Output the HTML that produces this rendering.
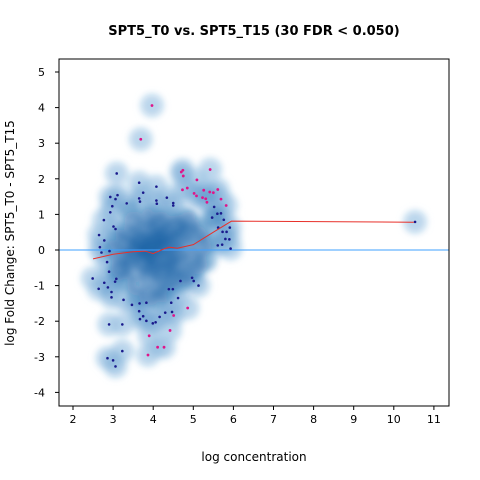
<!DOCTYPE html>
<html><head><meta charset="utf-8"><style>
body{margin:0;background:#fff;}
svg{display:block;font-family:"DejaVu Sans","Liberation Sans",sans-serif;}
</style></head><body>
<svg id="chart" width="480" height="480">
<defs>
<filter id="blur" x="-20%" y="-20%" width="140%" height="140%"><feGaussianBlur stdDeviation="3.5"/></filter>
<clipPath id="clip"><rect x="59" y="59" width="390" height="347"/></clipPath>
</defs>
<text x="254" y="35" text-anchor="middle" font-size="13" font-weight="bold">SPT5_T0 vs. SPT5_T15 (30 FDR &lt; 0.050)</text>
<g id="plot" clip-path="url(#clip)"></g>
<rect x="59" y="59" width="390" height="347" fill="none" stroke="#000" stroke-width="1"/>
<g id="axes"></g>
<text x="254" y="461" text-anchor="middle" font-size="12">log concentration</text>
<text transform="translate(14,233) rotate(-90)" text-anchor="middle" font-size="12">log Fold Change: SPT5_T0 - SPT5_T15</text>
</svg>
<script>
const xTicks=[2,3,4,5,6,7,8,9,10,11];
const yTicks=[-4,-3,-2,-1,0,1,2,3,4,5];
const darkX=[3.09,3.65,4.08,3.75,2.93,3.11,3.06,2.98,3.65,3.67,3.34,4.08,4.09,4.34,4.50,4.50,2.93,2.77,3.01,3.06,2.65,2.78,2.67,2.71,2.91,5.52,5.47,5.60,5.69,5.76,5.62,5.73,5.91,5.83,5.80,5.90,5.61,5.72,5.93,2.85,2.90,2.49,2.78,3.08,3.05,2.64,2.87,2.96,2.96,3.26,3.47,3.66,3.83,4.39,4.49,4.62,4.45,4.68,4.97,5.01,5.13,3.65,3.75,3.67,3.83,3.99,4.06,4.16,4.30,4.47,2.90,3.23,3.23,2.86,3.00,3.06,10.53];
const darkY=[2.15,1.89,1.78,1.61,1.49,1.54,1.43,1.23,1.45,1.36,1.31,1.39,1.30,1.47,1.32,1.25,1.06,0.84,0.66,0.59,0.42,0.27,0.08,-0.07,-0.03,1.21,0.91,1.02,1.03,0.85,0.63,0.51,0.63,0.51,0.31,0.30,0.13,0.15,0.04,-0.34,-0.61,-0.80,-0.92,-0.81,-0.89,-1.09,-1.05,-1.18,-1.33,-1.40,-1.54,-1.50,-1.48,-1.10,-1.10,-1.35,-1.48,-0.87,-0.78,-0.87,-1.00,-1.72,-1.86,-1.94,-1.99,-2.06,-2.03,-1.88,-1.76,-1.74,-2.09,-2.09,-2.84,-3.04,-3.10,-3.27,0.79];
const sigX=[3.97,3.69,4.70,4.74,4.75,5.42,5.09,4.73,4.85,5.02,5.08,5.26,5.41,5.50,5.61,5.69,5.23,5.31,5.34,5.82,4.86,4.51,4.42,3.90,4.11,4.27,3.87];
const sigY=[4.06,3.11,2.19,2.24,2.08,2.26,1.97,1.69,1.74,1.59,1.52,1.68,1.63,1.61,1.70,1.43,1.47,1.44,1.34,1.25,-1.63,-1.84,-2.26,-2.41,-2.73,-2.73,-2.95];
const coreX=[3.3,3.5,3.7,3.9,4.1,4.3,4.5,4.7,4.9,5.1,3.4,3.6,3.8,4.0,4.2,4.4,4.6,4.8,5.0,5.2,3.2,3.5,3.8,4.0,4.2,4.4,4.6,4.8,5.0,3.3,3.6,3.9,4.1,4.3,4.5,4.7,3.5,3.8,4.0,4.2,4.4,3.6,3.9,4.1,4.3,3.0,3.1,5.3,5.4,3.4,4.0,4.6,3.7,4.2,4.9,3.2,5.1,3.9,4.1,4.3,4.0,4.2,3.7,3.9,4.4,3.6,4.5,3.8,4.1,4.3,3.5,4.7,3.4,3.9,4.6,5.2,5.5,3.3,3.1,4.8];
const coreY=[0.2,0.4,0.3,0.5,0.7,0.4,0.6,0.3,0.5,0.4,-0.2,-0.1,0.0,0.2,0.0,0.1,-0.1,0.0,-0.2,0.1,-0.5,-0.6,-0.4,-0.5,-0.6,-0.4,-0.5,-0.7,-0.6,-0.9,-1.0,-0.8,-1.1,-0.9,-0.8,-0.9,0.8,0.9,1.0,0.8,0.9,-1.3,-1.3,-1.4,-1.2,0.0,0.3,-0.3,0.2,1.1,0.0,0.7,0.6,0.3,0.8,-0.2,-0.4,0.1,0.3,0.2,-0.2,-0.3,0.2,-0.1,-0.2,0.1,0.3,-0.3,0.5,-0.6,0.0,0.5,-0.4,-0.6,-0.3,0.6,0.9,0.5,-0.6,0.9];
const fitX=[2.5,3.0,3.5,3.8,4.0,4.2,4.4,4.6,5.0,5.5,5.95,10.5];
const fitY=[-0.25,-0.12,-0.05,-0.03,-0.1,0.0,0.08,0.05,0.15,0.5,0.81,0.78];

const sx=v=>73+(v-2)*40.1, sy=v=>250-v*35.6;
const NS="http://www.w3.org/2000/svg";
const plot=document.getElementById('plot'), axes=document.getElementById('axes');
function mk(tag,attrs,parent){const e=document.createElementNS(NS,tag);for(const k in attrs)e.setAttribute(k,attrs[k]);parent.appendChild(e);return e;}

const allX=darkX.concat(sigX,coreX), allY=darkY.concat(sigY,coreY);
const halo=mk('g',{filter:'url(#blur)'},plot);


allX.forEach((x,i)=>{const c=mk('circle',{cx:sx(x),cy:sy(allY[i]),r:12,fill:'#c3dbef','fill-opacity':0.75},halo);

});
const mid=mk('g',{filter:'url(#blur)'},plot);


allX.forEach((x,i)=>{const c=mk('circle',{cx:sx(x),cy:sy(allY[i]),r:10,fill:'#3a80c0','fill-opacity':0.14},mid);

});
const core=mk('g',{filter:'url(#blur)'},plot);


coreX.forEach((x,i)=>{const c=mk('circle',{cx:sx(x),cy:sy(coreY[i]),r:10,fill:'#125aa0','fill-opacity':0.22},core);

});

const zl=mk('line',{x1:59,x2:449,y1:sy(0),y2:sy(0),stroke:'#3fa0ff','stroke-width':1},plot);



darkX.forEach((x,i)=>{const c=mk('circle',{cx:sx(x),cy:sy(darkY[i]),r:1.3,fill:'#1a1a8c'},plot);

});
sigX.forEach((x,i)=>{const c=mk('circle',{cx:sx(x),cy:sy(sigY[i]),r:1.4,fill:'#e0158a'},plot);

});

const fit=mk('polyline',{points:fitX.map((x,i)=>sx(x)+','+sy(fitY[i])).join(' '),fill:'none',stroke:'#e8302a','stroke-width':1},plot);



xTicks.forEach(t=>{const x=sx(t);
const l=mk('line',{x1:x,x2:x,y1:406,y2:410,stroke:'#000'},axes);


const tx=mk('text',{x:x,y:423,'text-anchor':'middle','font-size':11},axes);tx.textContent=t;

});
yTicks.forEach(t=>{const y=sy(t);
const l=mk('line',{x1:55,x2:59,y1:y,y2:y,stroke:'#000'},axes);


const tx=mk('text',{x:45,y:y+4,'text-anchor':'end','font-size':11},axes);tx.textContent=t;

});
</script>
</body></html>
